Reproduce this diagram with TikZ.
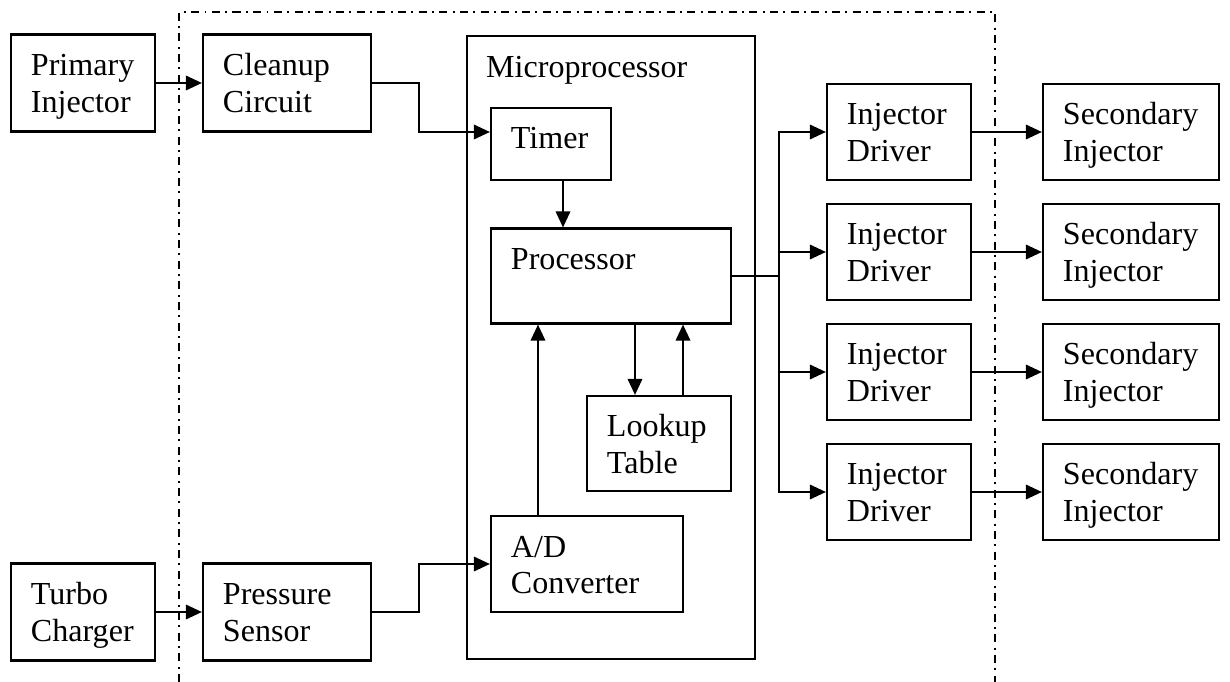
\documentclass[tikz,border=0pt]{standalone}
\usepackage{fontspec}
\setmainfont{Liberation Serif}
\usetikzlibrary{arrows.meta}

\begin{document}
\begin{tikzpicture}[x=0.025cm,y=-0.025cm,
  blk/.style 2 args={draw,line width=1.5pt,align=left,inner xsep=0.5cm,inner ysep=0pt,
    text width=#1,text height=1.025cm,text depth=#2,font=\fontsize{22.8pt}{26.3pt}\selectfont},
  wire/.style={line width=1.5pt},
  arr/.style={wire,-{Triangle[length=0.4cm,width=0.36cm]}},
  border/.style={line width=1.4pt,dash pattern=on 5.7pt off 3.8pt on 1.4pt off 3.8pt}]
 \useasboundingbox (0,0) rectangle (1230,682);
 \draw[border] (179,682)--(179,12)--(995,12)--(995,682);
 \node[blk={2.6cm}{1.4cm}] (prim) at (83,83) {Primary\\Injector};
 \node[blk={3.2cm}{1.4cm}] (clean) at (287,83) {Cleanup\\Circuit};
 \node[blk={2.6cm}{1.4cm}] (turbo) at (83,612) {Turbo\\Charger};
 \node[blk={3.2cm}{1.4cm}] (press) at (287,612) {Pressure\\Sensor};
 \node[draw,line width=1.5pt,minimum width=7.2cm,minimum height=15.575cm,inner sep=0pt] (micro) at (611,347.5) {};
 \node[anchor=north west,inner xsep=0.5cm,inner ysep=0.53cm,font=\fontsize{22.8pt}{26.3pt}\selectfont] (microlbl) at (micro.north west) {Microprocessor};
 \node[blk={2cm}{0.775cm}] (timer) at (551,144) {Timer};
 \node[blk={5cm}{1.35cm}] (proc) at (611,276) {Processor};
 \node[blk={2.6cm}{1.35cm}] (look) at (659,443.5) {Lookup\\Table};
 \node[blk={3.8cm}{1.375cm}] (adc) at (587,564) {A/D\\Converter};
 \node[blk={2.6cm}{1.375cm}] (drv1) at (899,132) {Injector\\Driver};
 \node[blk={2.6cm}{1.375cm}] (drv2) at (899,252) {Injector\\Driver};
 \node[blk={2.6cm}{1.375cm}] (drv3) at (899,372) {Injector\\Driver};
 \node[blk={2.6cm}{1.375cm}] (drv4) at (899,492) {Injector\\Driver};
 \node[blk={3.4cm}{1.375cm}] (sec1) at (1131,132) {Secondary\\Injector};
 \node[blk={3.4cm}{1.375cm}] (sec2) at (1131,252) {Secondary\\Injector};
 \node[blk={3.4cm}{1.375cm}] (sec3) at (1131,372) {Secondary\\Injector};
 \node[blk={3.4cm}{1.375cm}] (sec4) at (1131,492) {Secondary\\Injector};
 \coordinate (bus) at (779,276);
 \draw[arr] (prim.east) -- (clean.west);
 \draw[arr] (turbo.east) -- (press.west);
 \draw[arr] (clean.east) -- ++(47,0) |- ([yshift=0.3cm]timer.west);
 \draw[arr] (press.east) -- ++(47,0) |- (adc.west);
 \draw[arr] ([xshift=0.3cm]timer.south) -- ([xshift=0.3cm]timer.south |- proc.north);
 \draw[arr] ([xshift=-1.225cm]adc.north) -- ([xshift=-1.225cm]adc.north |- proc.south);
 \draw[arr] ([xshift=-0.6cm]look.north |- proc.south) -- ([xshift=-0.6cm]look.north);
 \draw[arr] ([xshift=0.6cm]look.north) -- ([xshift=0.6cm]look.north |- proc.south);
 \draw[wire] (proc.east) -- (bus);
 \draw[arr] (bus) |- (drv1.west);
 \draw[arr] (bus) |- (drv2.west);
 \draw[arr] (bus) |- (drv3.west);
 \draw[arr] (bus) |- (drv4.west);
 \draw[arr] (drv1.east) -- (sec1.west);
 \draw[arr] (drv2.east) -- (sec2.west);
 \draw[arr] (drv3.east) -- (sec3.west);
 \draw[arr] (drv4.east) -- (sec4.west);
\end{tikzpicture}
\end{document}
